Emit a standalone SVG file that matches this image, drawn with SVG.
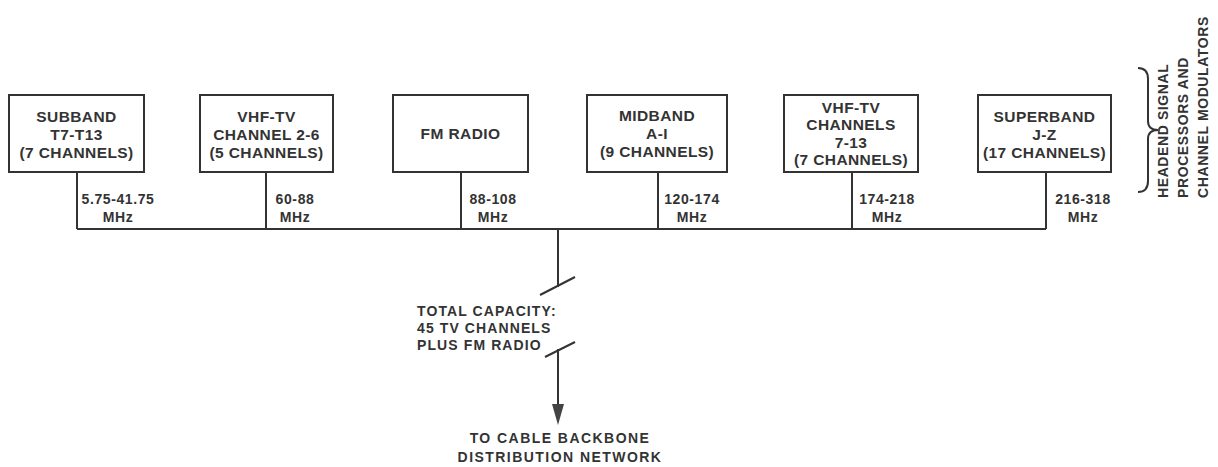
<svg xmlns="http://www.w3.org/2000/svg" width="1218" height="467" viewBox="0 0 1218 467">
<style>
text{font-family:"Liberation Sans",Arial,sans-serif;font-weight:bold;fill:#333;}
.bt{font-size:15.5px;letter-spacing:0.4px;text-anchor:middle;}
.ft{font-size:14px;letter-spacing:0.6px;text-anchor:middle;}
.ct{font-size:14px;letter-spacing:1.1px;}
.bm{font-size:14px;letter-spacing:1.45px;text-anchor:middle;}
.rt{font-size:14px;letter-spacing:0.6px;}
rect{fill:#fff;stroke:#333;stroke-width:2;}
.ln{stroke:#333;stroke-width:2;fill:none;}
</style>
<rect width="1218" height="467" style="fill:#fff;stroke:none"/>
<g id="connectors">
<path class="ln" d="M77,172 V229 M266,172 V229 M461,172 V229 M658,172 V229 M852,172 V229 M1046,172 V229 M77,229 H1046"/>
<path class="ln" d="M558,229 V287"/>
<path class="ln" d="M540,295 L575,277"/>
<path class="ln" d="M545,357 L575,342"/>
<path class="ln" d="M558,349 V406"/>
<path d="M552,404 L564,404 L558,425 Z" fill="#444"/>
</g>
<g id="subband">
<rect x="9" y="95" width="135" height="77"/>
<text class="bt" x="76.5" y="122">SUBBAND</text>
<text class="bt" x="76.5" y="140">T7-T13</text>
<text class="bt" x="76.5" y="158">(7 CHANNELS)</text>
<text class="ft" x="118" y="204">5.75-41.75</text>
<text class="ft" x="118" y="222">MHz</text>
</g>
<g id="vhf-low">
<rect x="200" y="95" width="133" height="77"/>
<text class="bt" x="266.5" y="122">VHF-TV</text>
<text class="bt" x="266.5" y="140">CHANNEL 2-6</text>
<text class="bt" x="266.5" y="158">(5 CHANNELS)</text>
<text class="ft" x="295" y="204">60-88</text>
<text class="ft" x="295" y="222">MHz</text>
</g>
<g id="fm">
<rect x="393" y="95" width="135" height="77"/>
<text class="bt" x="460.5" y="139">FM RADIO</text>
<text class="ft" x="493" y="204">88-108</text>
<text class="ft" x="493" y="222">MHz</text>
</g>
<g id="midband">
<rect x="587" y="95" width="140" height="77"/>
<text class="bt" x="657" y="121">MIDBAND</text>
<text class="bt" x="657" y="139">A-I</text>
<text class="bt" x="657" y="157">(9 CHANNELS)</text>
<text class="ft" x="692" y="204">120-174</text>
<text class="ft" x="692" y="222">MHz</text>
</g>
<g id="vhf-high">
<rect x="784" y="95" width="134" height="77"/>
<text class="bt" x="851" y="112.5">VHF-TV</text>
<text class="bt" x="851" y="130">CHANNELS</text>
<text class="bt" x="851" y="147.5">7-13</text>
<text class="bt" x="851" y="165">(7 CHANNELS)</text>
<text class="ft" x="887" y="204">174-218</text>
<text class="ft" x="887" y="222">MHz</text>
</g>
<g id="superband">
<rect x="978" y="95" width="133" height="77"/>
<text class="bt" x="1044.5" y="122">SUPERBAND</text>
<text class="bt" x="1044.5" y="140">J-Z</text>
<text class="bt" x="1044.5" y="158">(17 CHANNELS)</text>
<text class="ft" x="1083" y="204">216-318</text>
<text class="ft" x="1083" y="222">MHz</text>
</g>
<g id="headend-label">
<path class="ln" d="M1138,68 Q1148,68 1148,79 L1148,121 Q1148,130 1158,130 Q1148,130 1148,139 L1148,181 Q1148,192 1138,192"/>
<text class="rt" transform="translate(1167.5,198) rotate(-90)">HEADEND SIGNAL</text>
<text class="rt" transform="translate(1187.5,198) rotate(-90)">PROCESSORS AND</text>
<text class="rt" transform="translate(1207.5,198) rotate(-90)">CHANNEL MODULATORS</text>
</g>
<g id="capacity">
<text class="ct" x="417" y="316">TOTAL CAPACITY:</text>
<text class="ct" x="417" y="333">45 TV CHANNELS</text>
<text class="ct" x="417" y="350">PLUS FM RADIO</text>
</g>
<g id="backbone">
<text class="bm" x="560" y="443">TO CABLE BACKBONE</text>
<text class="bm" x="560" y="462">DISTRIBUTION NETWORK</text>
</g>
</svg>
